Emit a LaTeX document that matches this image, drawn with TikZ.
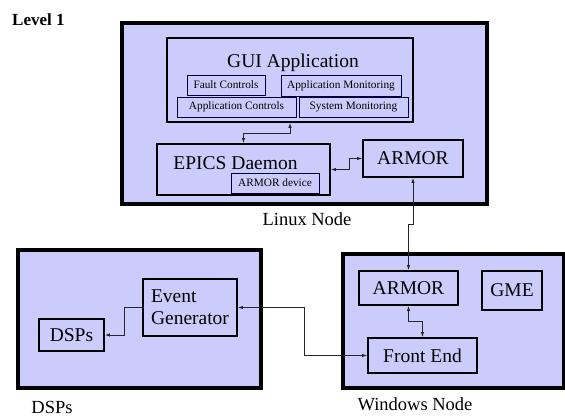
\documentclass[tikz,border=0pt]{standalone}
\usepackage{fontspec}
\setmainfont{Liberation Serif}
\definecolor{lav}{RGB}{204,204,252}

\begin{document}
\begin{tikzpicture}[x=1pt,y=-1pt,>=latex,
    host/.style={draw,fill=lav,line width=3.5pt,inner sep=0pt},
    unit/.style={draw,fill=lav,line width=2.5pt,inner sep=0pt,font=\fontsize{19.5}{22}\selectfont},
    part/.style={draw=black!75!blue,fill=lav,line width=0.8pt,inner sep=0pt,font=\fontsize{11.3}{13}\selectfont},
    tag/.style={anchor=base,inner sep=0pt,font=\fontsize{18.5}{21}\selectfont},
    link/.style={<->,line width=0.6pt,black!85}]
  \useasboundingbox (0,0) rectangle (565,417);
  \node[anchor=base west,inner sep=0pt,font=\fontsize{17}{20}\bfseries] (level) at (12,26) {Level 1};
  % Linux node
  \node[host,minimum width=365pt,minimum height=181pt] (linux) at (304.5,113.5) {};
  \node[tag] (linuxtag) at (307,225) {Linux Node};
  \node[unit,minimum width=246pt,minimum height=84pt] (gui) at (290,80) {};
  \node[anchor=base,inner sep=0pt,font=\fontsize{19.5}{22}\selectfont] (guititle) at (293,68) {GUI Application};
  \node[part,minimum width=78pt,minimum height=20pt] (fault) at (226,85) {Fault Controls};
  \node[part,minimum width=120pt,minimum height=21pt] (appmon) at (341,85.5) {Application Monitoring};
  \node[part,minimum width=119pt,minimum height=20pt] (appctl) at (236.5,107) {Application Controls};
  \node[part,minimum width=109pt,minimum height=20pt] (sysmon) at (353.5,107) {System Monitoring};
  \node[unit,minimum width=173pt,minimum height=51pt] (epics) at (243.5,169.5) {};
  \node[anchor=base,inner sep=0pt,font=\fontsize{19.5}{22}\selectfont] (epicstitle) at (235.5,170) {EPICS Daemon};
  \node[part,minimum width=88pt,minimum height=20pt] (armordev) at (275,183) {ARMOR device};
  \node[unit,minimum width=100pt,minimum height=37pt] (armorL) at (413,158.5) {ARMOR};
  % DSPs
  \node[host,minimum width=243pt,minimum height=138pt] (dsphost) at (139.5,319) {};
  \node[tag] (dsptag) at (52,413) {DSPs};
  \node[unit,minimum width=94pt,minimum height=57pt,align=left] (evgen) at (190,307.5) {Event\\Generator};
  \node[unit,minimum width=65pt,minimum height=32pt] (dsp) at (71.5,335) {DSPs};
  % Windows node
  \node[host,minimum width=221pt,minimum height=134pt] (win) at (453.5,321) {};
  \node[tag] (wintag) at (415,410) {Windows Node};
  \node[unit,minimum width=99pt,minimum height=34pt] (armorW) at (408.5,288) {ARMOR};
  \node[unit,minimum width=60pt,minimum height=39pt] (gme) at (512,290.5) {GME};
  \node[unit,minimum width=109pt,minimum height=35pt] (front) at (422.5,355.5) {Front End};
  % connectors
  \draw[link] (gui.south) -- ++(0,10) -| (epics.north);
  \draw[link] (epics.east) -- ++(18,0) |- (armorL.west);
  \draw[link] (armorL.south) -- ++(0,46) -| (armorW.north);
  \draw[link] (armorW.south) -- ++(0,15) -| (front.north);
  \draw[link] (evgen.east) -- ++(66,0) |- (front.west);
  \draw[link,<-] (dsp.east) -- ++(19,0) |- (evgen.west);
\end{tikzpicture}
\end{document}
